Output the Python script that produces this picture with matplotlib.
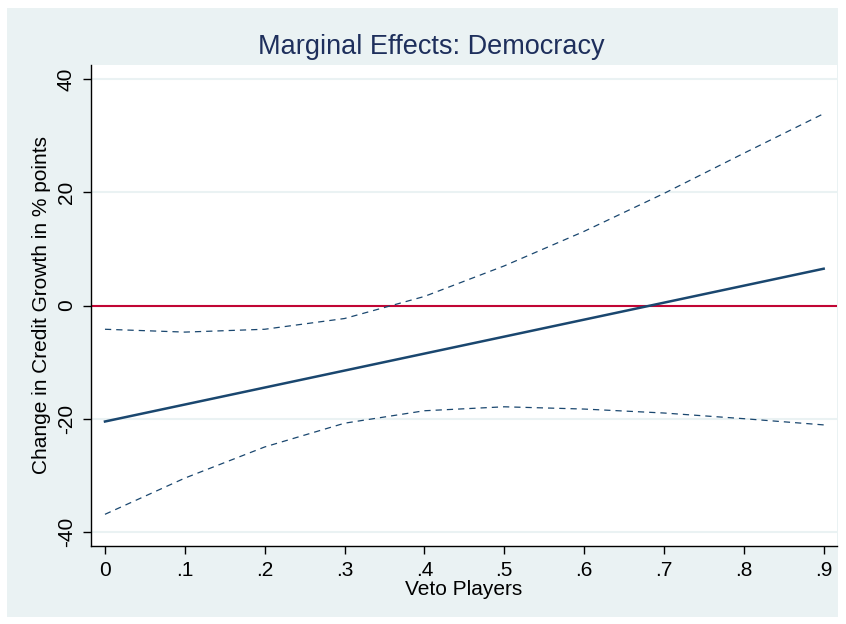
import matplotlib
matplotlib.use('Agg')
import matplotlib.pyplot as plt
from matplotlib.patches import Rectangle

plt.rcParams['font.family'] = ['Liberation Sans', 'DejaVu Sans']

# data
veto = [0, .1, .2, .3, .4, .5, .6, .7, .8, .9]
effect = [-20.5, -17.5, -14.5, -11.5, -8.5, -5.5, -2.5, 0.5, 3.5, 6.5]
upper = [-4.2, -4.7, -4.2, -2.3, 1.6, 7.0, 13.1, 19.8, 26.9, 33.9]
lower = [-36.9, -30.5, -25.0, -20.8, -18.6, -17.9, -18.3, -19.0, -20.0, -21.1]
xticks = [0, .1, .2, .3, .4, .5, .6, .7, .8, .9]
xticklabels = ['0', '.1', '.2', '.3', '.4', '.5', '.6', '.7', '.8', '.9']
yticks = [-40, -20, 0, 20, 40]

navy = '#1a476f'
bg = '#eaf2f3'

fig = plt.figure(figsize=(8.46, 6.24), dpi=100)
fig.patch.set_facecolor('white')
fig.patches.append(Rectangle((7/846, 1 - 617/624), 831/846, 609/624,
                             transform=fig.transFigure, facecolor=bg,
                             edgecolor='none', zorder=-10))

ax = fig.add_axes([91/846, 1 - 546/624, (837-91)/846, (546-65)/624])
ax.set_facecolor('white')

for y in yticks:
    ax.axhline(y, color=bg, lw=1.5, zorder=1)

ax.plot(veto, upper, color=navy, lw=0.9, ls=(0, (5, 4)), zorder=3)
ax.plot(veto, lower, color=navy, lw=0.9, ls=(0, (5, 4)), zorder=3)
ax.plot(veto, effect, color=navy, lw=1.8, zorder=3)
ax.axhline(0, color='#c10534', lw=1.5, zorder=2)

ax.set_xlim(-0.0175, 0.9167)
ax.set_ylim(-42.5, 42.5)
ax.set_xticks(xticks)
ax.set_xticklabels(xticklabels)
ax.set_yticks(yticks)
ax.set_yticklabels([str(v) for v in yticks], rotation=90, va='center')
ax.tick_params(direction='out', length=6, width=1, labelsize=15, pad=5)

for s in ['top', 'right']:
    ax.spines[s].set_visible(False)
for s in ['left', 'bottom']:
    ax.spines[s].set_linewidth(1)

ax.set_xlabel('Veto Players', fontsize=15, labelpad=0)
ax.set_ylabel('Change in Credit Growth in % points', fontsize=15, labelpad=4)
fig.text(431/846, 1 - 47/624, 'Marginal Effects: Democracy', ha='center',
         va='center', fontsize=19.5, color='#1e2f5c')

fig.savefig('out.png', dpi=100, facecolor=fig.get_facecolor())
